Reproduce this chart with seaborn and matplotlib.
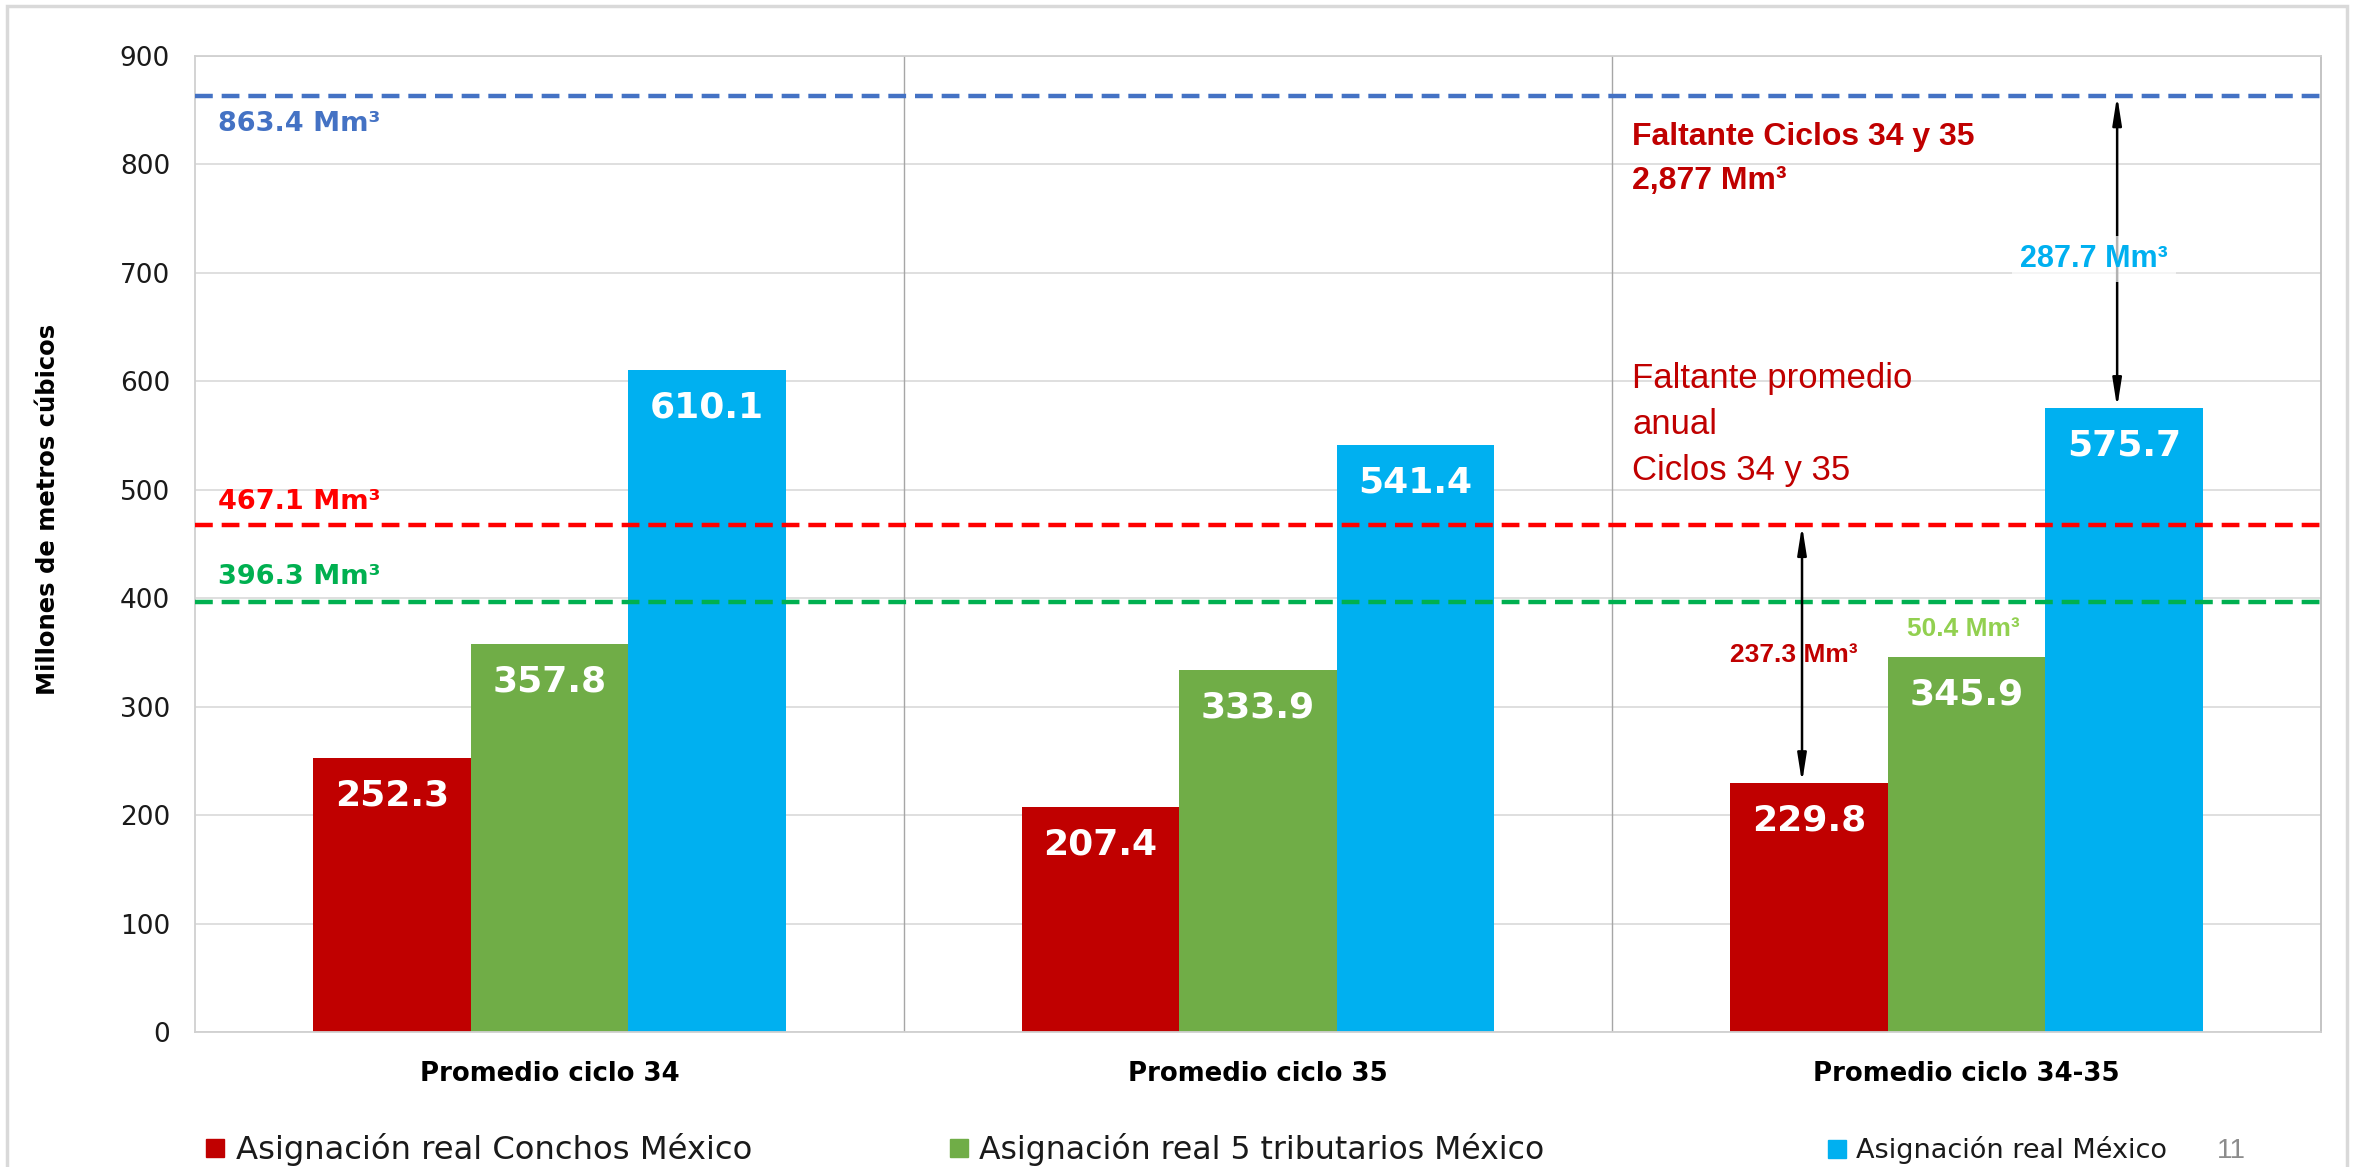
import matplotlib
matplotlib.use("Agg")
import matplotlib.pyplot as plt
from matplotlib.patches import Rectangle
from matplotlib.lines import Line2D
import seaborn as sns
import pandas as pd

# ---------------- data ----------------
categories = ["Promedio ciclo 34", "Promedio ciclo 35", "Promedio ciclo 34-35"]
series = ["Asignación real Conchos México",
          "Asignación real 5 tributarios México",
          "Asignación real México"]
conchos = [252.3, 207.4, 229.8]
tributarios = [357.8, 333.9, 345.9]
mexico = [610.1, 541.4, 575.7]
colors = ["#C00000", "#70AD47", "#00B0F0"]

ref_values = [863.4, 467.1, 396.3]
ref_labels = ["863.4 Mm³", "467.1 Mm³", "396.3 Mm³"]
ref_colors = ["#4472C4", "#FF0000", "#00B050"]

y_ticks = [0, 100, 200, 300, 400, 500, 600, 700, 800, 900]

df = pd.DataFrame({
    "ciclo": categories * 3,
    "serie": [s for s in series for _ in categories],
    "valor": conchos + tributarios + mexico,
})

# ---------------- figure ----------------
sns.set_theme(style="white")
plt.rcParams["font.family"] = ["DejaVu Sans"]
narrow = ["Liberation Sans Narrow", "Liberation Sans", "DejaVu Sans"]

fig = plt.figure(figsize=(23.53, 11.67), dpi=100)
ax = fig.add_axes([195 / 2353, 1 - 1032 / 1167, (2321 - 195) / 2353, (1032 - 56) / 1167])

sns.barplot(data=df, x="ciclo", y="valor", hue="serie", order=categories,
            hue_order=series, palette=colors, saturation=1, width=0.667,
            ax=ax, legend=False, zorder=2, linewidth=0)

ax.set_ylim(0, 900)
ax.set_xlim(-0.5, 2.5)
ax.set_yticks(y_ticks)
ax.set_yticklabels([str(t) for t in y_ticks], fontsize=19, color="#1A1A1A")
ax.tick_params(axis="y", length=0, pad=18)
ax.tick_params(axis="x", length=0, pad=21)
ax.set_xticks(range(len(categories)))
ax.set_xticklabels(categories, fontsize=18.7, fontweight="bold", color="black")
ax.set_xlabel("")
ax.set_ylabel("Millones de metros cúbicos", fontsize=17.5, fontweight="bold",
              color="black")
ax.yaxis.set_label_coords(-0.0635, 0.535)
ax.yaxis.grid(True, color="#D9D9D9", lw=1.2, zorder=0)
ax.set_axisbelow(True)
for name, sp in ax.spines.items():
    sp.set_color("#D0D0D0" if name != "right" else "#BFBFBF")
    sp.set_linewidth(1.3)

# category separators
for xs in [0.5, 1.5]:
    ax.axvline(xs, color="#A6A6A6", lw=1.0, zorder=1)

# value labels inside bars
for patch in ax.patches:
    h = patch.get_height()
    if h <= 0:
        continue
    ax.annotate(f"{h:.1f}", (patch.get_x() + patch.get_width() / 2, h),
                xytext=(0, -27), textcoords="offset points",
                ha="center", va="center", color="white",
                fontsize=26, fontweight="bold", zorder=5)

# reference dashed lines
for v, c in zip(ref_values, ref_colors):
    ax.axhline(v, color=c, ls=(0, (4, 2)), lw=3.2, zorder=4)

for v_text, lbl, c in zip([837, 489, 420], ref_labels, ref_colors):
    ax.text(-0.468, v_text, lbl, color=c, fontsize=19.5,
            fontweight="bold", va="center", ha="left")

# text annotations on right group
ax.text(1.528, 825, "Faltante Ciclos 34 y 35", color="#C00000", fontsize=23,
        fontweight="bold", family=narrow, va="center", ha="left")
ax.text(1.528, 785, "2,877 Mm³", color="#C00000", fontsize=23,
        fontweight="bold", family=narrow, va="center", ha="left")
for yv, line in zip([603, 560, 518], ["Faltante promedio", "anual", "Ciclos 34 y 35"]):
    ax.text(1.528, yv, line, color="#C00000", fontsize=25, family=narrow,
            va="center", ha="left")

# arrows
red_bars = ax.containers[0]
blue_bars = ax.containers[2]
rb = red_bars[2]
bb = blue_bars[2]
x_red = rb.get_x() + rb.get_width() / 2 - 0.01
x_blue = bb.get_x() + bb.get_width() / 2 - 0.01
arrow_style = dict(arrowstyle="<|-|>,head_length=1.4,head_width=0.22",
                   color="black", lw=1.8, shrinkA=0, shrinkB=0)
ax.annotate("", xy=(x_blue, ref_values[0]), xytext=(x_blue, mexico[2]),
            arrowprops=arrow_style, zorder=6)
ax.annotate("", xy=(x_red, ref_values[1]), xytext=(x_red, conchos[2]),
            arrowprops=arrow_style, zorder=6)

ax.text(2.18, 713, "287.7 Mm³", color="#00B0F0", fontsize=22, fontweight="bold",
        family=narrow, ha="center", va="center", zorder=7,
        bbox=dict(facecolor="white", edgecolor="none", alpha=0.7, pad=6))
ax.text(1.756, 348, "237.3 Mm³", color="#C00000", fontsize=19, fontweight="bold",
        family=narrow, ha="center", va="center", zorder=7)
ax.text(1.995, 372, "50.4 Mm³", color="#92D050", fontsize=19, fontweight="bold",
        family=narrow, ha="center", va="center", zorder=7)

# legend (three entries spread along the bottom)
legend_x = [218 / 2353, 962 / 2353, 1842 / 2353]
legend_fs = [23.2, 22.7, 19.5]
for s, c, lx, fs in zip(series, colors, legend_x, legend_fs):
    h = Line2D([], [], marker="s", color="none", markerfacecolor=c,
               markeredgecolor=c, markersize=13)
    lg = fig.legend([h], [s], loc="center left", bbox_to_anchor=(lx - 0.006, 1 - 1150 / 1167),
                    frameon=False, fontsize=fs, handlelength=0.7,
                    handletextpad=0.3 * 22.5 / fs,
                    borderpad=0, borderaxespad=0)
    for t in lg.get_texts():
        t.set_color("#1A1A1A")

fig.text(2231 / 2353, 1 - 1151 / 1167, "11", color="#8C8C8C", fontsize=20,
         family=narrow, ha="center", va="center")

# outer frame
fig.patches.append(Rectangle((7 / 2353, -0.01), (2347 - 7) / 2353, (1167 - 6) / 1167 + 0.01,
                             transform=fig.transFigure, fill=False,
                             edgecolor="#D9D9D9", lw=2.5))

fig.savefig("out.png", dpi=100)
